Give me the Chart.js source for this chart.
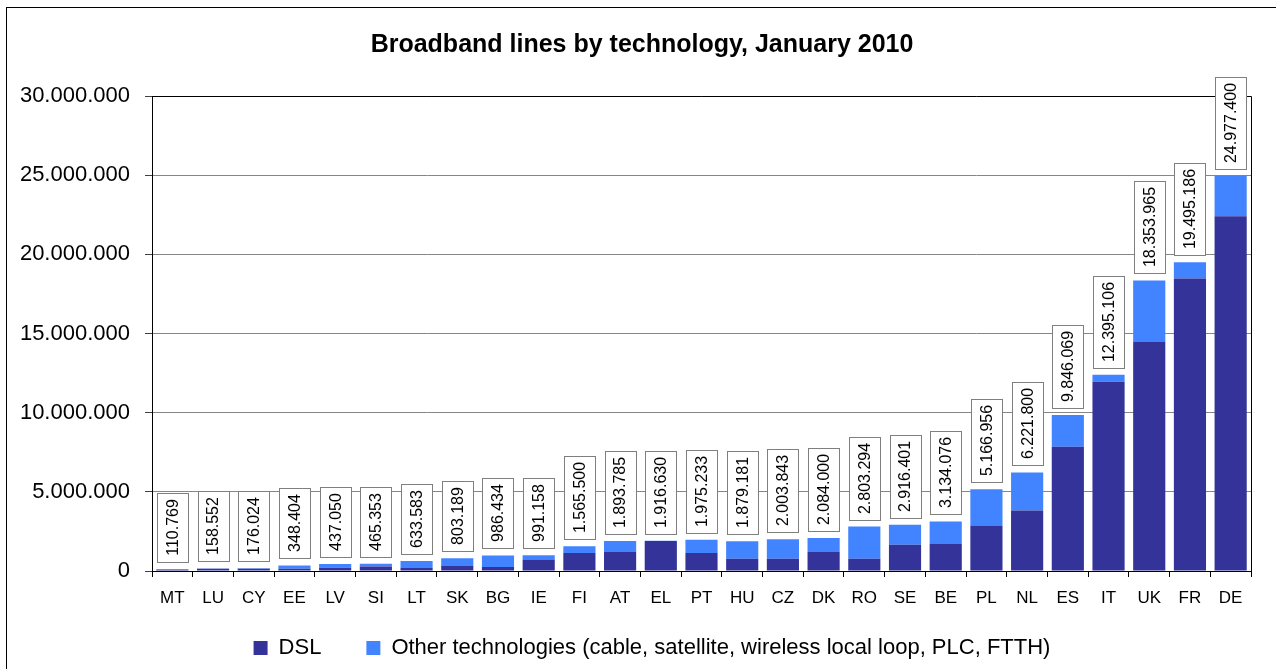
<!DOCTYPE html>
<html><head><meta charset="utf-8">
<script src="https://cdn.jsdelivr.net/npm/chart.js@4.4.1/dist/chart.umd.min.js"></script>
<style>
html,body{margin:0;padding:0;background:#fff;overflow:hidden;width:1276px;height:669px;}
#frame{position:absolute;left:6px;top:7px;width:1290px;height:700px;border:1px solid #000;}
canvas{display:block}
</style></head><body>
<div id="frame"><canvas id="c" width="1290" height="700"></canvas></div>
<script>
const titleText = 'Broadband lines by technology, January 2010';
const categories = ['MT','LU','CY','EE','LV','SI','LT','SK','BG','IE','FI','AT','EL','PT','HU','CZ','DK','RO','SE','BE','PL','NL','ES','IT','UK','FR','DE'];
const seriesNames = ['DSL', 'Other technologies (cable, satellite, wireless local loop, PLC, FTTH)'];
const dsl = [100000,150000,150000,150000,200000,280000,190000,320000,250000,720000,1140000,1200000,1900000,1140000,780000,780000,1200000,780000,1660000,1730000,2870000,3820000,7850000,11960000,14490000,18480000,22400000];
const other = [10769,8552,26024,198404,237050,185353,443583,483189,736434,271158,425500,693785,16630,835233,1099181,1223843,884000,2023294,1256401,1404076,2296956,2401800,1996069,435106,3863965,1015186,2577400];
const totals = [110769,158552,176024,348404,437050,465353,633583,803189,986434,991158,1565500,1893785,1916630,1975233,1879181,2003843,2084000,2803294,2916401,3134076,5166956,6221800,9846069,12395106,18353965,19495186,24977400];
const yTicks = [0,5000000,10000000,15000000,20000000,25000000,30000000];

const FONT = '"Liberation Sans", Arial, sans-serif';
Chart.defaults.font.family = FONT;
Chart.defaults.color = '#000';
const fmt = v => String(v).replace(/\B(?=(\d{3})+(?!\d))/g, '.');

const labelPlugin = {
  id: 'totLabels',
  afterLayout(chart) {
    // centre legend and title on the frame as in the reference
    const lg = chart.legend;
    if (lg) { lg.left = 46; lg.top = 584; }
    const tb = chart.titleBlock;
    if (tb) { tb.left = 2 * 635 - tb.right; }
  },
  beforeDatasetsDraw(chart) {
    const {ctx, chartArea: a} = chart;
    ctx.save();
    ctx.strokeStyle = '#000';
    ctx.lineWidth = 1;
    ctx.beginPath();
    ctx.moveTo(a.left, Math.round(a.top) + 0.5);
    ctx.lineTo(Math.round(a.right) + 0.5, Math.round(a.top) + 0.5);
    ctx.lineTo(Math.round(a.right) + 0.5, a.bottom);
    ctx.stroke();
    ctx.restore();
  },
  afterDatasetsDraw(chart) {
    const ctx = chart.ctx;
    const m0 = chart.getDatasetMeta(0), m1 = chart.getDatasetMeta(1);
    ctx.save();
    ctx.font = '16px ' + FONT;
    totals.forEach((t, i) => {
      const e1 = m1.data[i], e0 = m0.data[i];
      const top = Math.min(e1.y, e0.y);
      const txt = fmt(t);
      const tw = ctx.measureText(txt).width;
      const h = Math.round(tw + 12), w = 31;
      const bottom = Math.round(top) - 7;
      const left = Math.round(e1.x - w / 2);
      ctx.fillStyle = '#fff';
      ctx.fillRect(left, bottom - h, w, h);
      ctx.strokeStyle = '#7f7f7f';
      ctx.lineWidth = 1;
      ctx.strokeRect(left + 0.5, bottom - h + 0.5, w, h);
      ctx.save();
      ctx.translate(e1.x + 1, bottom - h / 2);
      ctx.rotate(-Math.PI / 2);
      ctx.fillStyle = '#000';
      ctx.textAlign = 'center';
      ctx.textBaseline = 'middle';
      ctx.fillText(txt, 0, 0);
      ctx.restore();
    });
    ctx.restore();
  }
};

new Chart(document.getElementById('c'), {
  type: 'bar',
  data: {
    labels: categories,
    datasets: [
      {label: seriesNames[0], data: dsl, backgroundColor: '#333399', borderWidth: 0},
      {label: seriesNames[1], data: other, backgroundColor: '#4284ff', borderWidth: 0}
    ]
  },
  options: {
    responsive: false,
    animation: false,
    layout: {padding: {left: 0, right: 46, top: 0, bottom: 15}},
    datasets: {bar: {categoryPercentage: 1, barPercentage: 0.79}},
    plugins: {
      title: {display: true, text: titleText, font: {size: 25, weight: 'bold'}, color: '#000', padding: {top: 22, bottom: 36}},
      legend: {position: 'bottom', labels: {boxWidth: 14, boxHeight: 14, padding: 45, font: {size: 22}, color: '#000'}},
      tooltip: {enabled: false}
    },
    scales: {
      x: {
        stacked: true,
        grid: {offset: true, drawOnChartArea: false, drawTicks: true, tickLength: 6, color: '#000'},
        border: {color: '#000', width: 1},
        ticks: {font: {size: 17}, color: '#000', padding: 11, maxRotation: 0, autoSkip: false},
        afterFit(s) { s.height = 45; }
      },
      y: {
        stacked: true,
        min: 0, max: 30000000,
        afterBuildTicks(s) { s.ticks = yTicks.map(v => ({value: v})); },
        grid: {color: '#868686', tickColor: '#404040', tickLength: 7},
        border: {color: '#000', width: 1},
        ticks: {font: {size: 22}, color: '#000', padding: 15, callback: v => fmt(v)},
        afterFit(s) { s.width = 145; }
      }
    }
  },
  plugins: [labelPlugin]
});
</script>
</body></html>
